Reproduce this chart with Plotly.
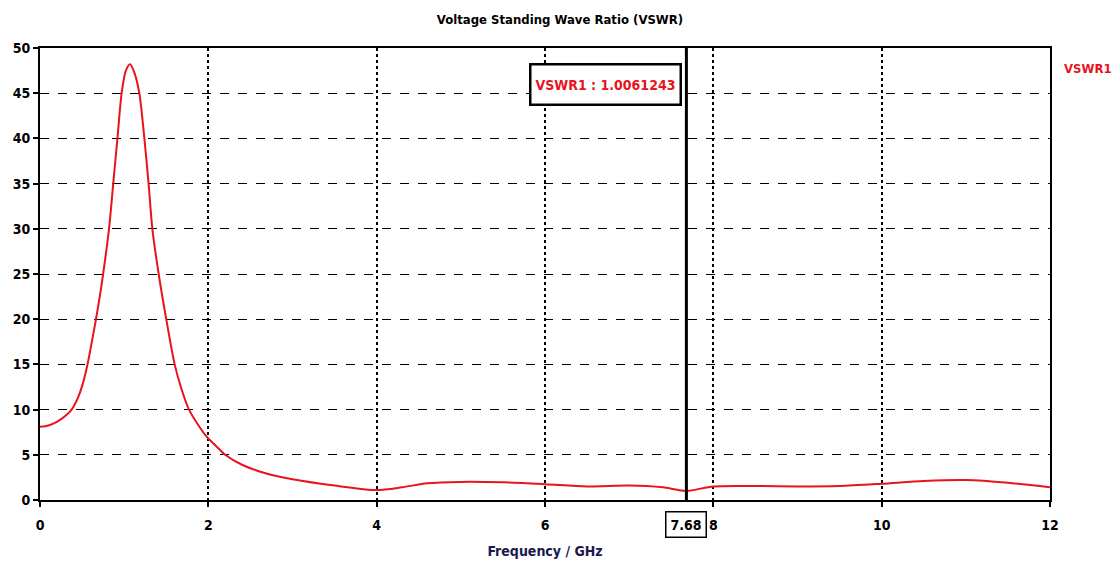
import plotly.graph_objects as go

freq = [0, 0.1, 0.2, 0.3, 0.376, 0.45, 0.5, 0.56, 0.61, 0.665, 0.71, 0.75, 0.82, 0.87,
        0.92, 0.97, 1.02, 1.07, 1.12, 1.18, 1.24, 1.29, 1.335, 1.41, 1.5, 1.6, 1.68, 1.77,
        1.88, 1.98, 2.1, 2.2, 2.4, 2.7, 3.0, 3.5, 4.0, 4.3, 4.6, 5.0, 5.5, 6.0, 6.5,
        7.0, 7.4, 7.68, 8.0, 8.5, 9.0, 9.5, 10.0, 10.5, 11.0, 11.5, 12.0]
vswr = [8.1, 8.25, 8.65, 9.3, 10.0, 11.3, 12.6, 14.8, 17.2, 20.0, 22.5, 25.0, 30.0, 35.0,
        40.0, 45.0, 47.5, 48.2, 47.3, 45.0, 40.0, 35.0, 30.0, 25.0, 20.0, 15.0, 12.3, 10.0,
        8.3, 7.0, 5.9, 5.0, 3.9, 2.9, 2.3, 1.6, 1.1, 1.4, 1.85, 2.0, 1.95, 1.75, 1.5,
        1.6, 1.4, 1.006, 1.5, 1.55, 1.5, 1.55, 1.8, 2.1, 2.2, 1.9, 1.4]

marker_f = 7.68
marker_label = "VSWR1 : 1.0061243"
x_ticks = [0, 2, 4, 6, 8, 10, 12]
y_ticks = [0, 5, 10, 15, 20, 25, 30, 35, 40, 45, 50]

FONT = "DejaVu Sans Condensed, Liberation Sans Narrow, Arial"

fig = go.Figure()
fig.add_trace(go.Scatter(x=freq, y=vswr, mode="lines", name="VSWR1",
                         line=dict(color="#e8131b", width=2, shape="spline", smoothing=0.8),
                         showlegend=False))

fig.add_shape(type="line", x0=marker_f, x1=marker_f, y0=0, y1=50, xref="x", yref="y",
              line=dict(color="black", width=3))

fig.add_annotation(x=6.72, y=46.0, xref="x", yref="y", text="<b>" + marker_label + "</b>",
                   showarrow=False, font=dict(family=FONT, size=14, color="#e8131b"),
                   width=144, height=34,
                   bordercolor="black", borderwidth=2.5, borderpad=2, bgcolor="white")
fig.add_annotation(x=marker_f, y=-0.025, xref="x", yref="paper", yanchor="top",
                   text="<b>7.68</b>", showarrow=False,
                   font=dict(family=FONT, size=14, color="black"),
                   bordercolor="black", borderwidth=1.5, borderpad=4, bgcolor="white")
fig.add_annotation(x=1.012, y=0.975, xref="paper", yref="paper", xanchor="left",
                   text="<b>VSWR1</b>", showarrow=False,
                   font=dict(family=FONT, size=13, color="#e8131b"))

fig.update_layout(
    width=1120, height=568,
    margin=dict(l=40, r=70, t=48, b=68),
    paper_bgcolor="white", plot_bgcolor="white",
    title=dict(text="<b>Voltage Standing Wave Ratio (VSWR)</b>", x=0.5, xanchor="center",
               y=0.965, yanchor="middle", font=dict(family=FONT, size=13, color="black")),
    font=dict(family=FONT, color="black"),
)
fig.update_xaxes(range=[0, 12], tickvals=x_ticks, ticktext=["<b>%d</b>" % t for t in x_ticks],
                 showgrid=True, gridcolor="black", griddash="dot", gridwidth=2,
                 showline=True, linecolor="black", linewidth=2, mirror=True,
                 ticks="outside", ticklen=5, tickwidth=2, tickcolor="black",
                 ticklabelstandoff=6,
                 tickfont=dict(family=FONT, size=14, color="black"), zeroline=False,
                 title=dict(text="<b>Frequency / GHz</b>", standoff=14,
                            font=dict(family=FONT, size=14, color="#1a1a4d")))
fig.update_yaxes(range=[0, 50], tickvals=y_ticks, ticktext=["<b>%d</b>" % t for t in y_ticks],
                 showgrid=True, gridcolor="black", griddash="dash", gridwidth=1.2,
                 showline=True, linecolor="black", linewidth=2, mirror=True,
                 ticks="outside", ticklen=5, tickwidth=2, tickcolor="black",
                 tickfont=dict(family=FONT, size=14, color="black"), zeroline=False)

fig.write_html("out.html")
